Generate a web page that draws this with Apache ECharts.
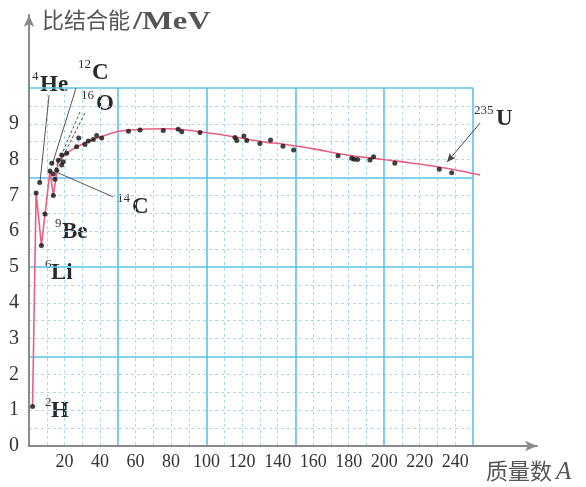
<!DOCTYPE html>
<html>
<head>
<meta charset="utf-8">
<script src="https://cdn.jsdelivr.net/npm/echarts@6/dist/echarts.min.js"></script>
<style>
  html, body { margin: 0; padding: 0; background: #fff; }
  #main { width: 586px; height: 487px; }
</style>
</head>
<body>
<div id="main"></div>
<script>
// measured nuclides (mass number A, binding energy per nucleon in MeV)
var dotA = [2, 4, 6, 7, 9, 13.7, 11.8, 12.8, 14.6, 13.7, 15.6, 16.5, 18.4, 19.3, 18.4, 21.2, 26.8, 28, 31.5, 33.4, 36.2, 38.1, 40.9,
    56, 62.5, 75.6, 84, 86, 96.3, 116, 117, 121, 122.6, 130, 136, 143, 149, 174, 181.7, 183, 185, 192, 194, 206, 231, 238];
var dotE = [1.1, 7.07, 7.36, 5.6, 6.48, 7.0, 7.68, 7.9, 7.45, 7.6, 7.7, 7.98, 7.85, 7.94, 8.13, 8.18, 8.36, 8.6, 8.42, 8.52, 8.56, 8.67, 8.6,
    8.79, 8.83, 8.81, 8.85, 8.78, 8.76, 8.62, 8.53, 8.66, 8.53, 8.45, 8.55, 8.37, 8.27, 8.11, 8.04, 8.01, 8.0, 7.99, 8.08, 7.9, 7.73, 7.63];

// red curve: jagged start for the light nuclei, then a smooth trend
var startA = [2, 4, 7, 11.8, 13.7, 15.6, 16.5];
var startE = [1.1, 7.07, 5.6, 7.68, 7.0, 7.62, 7.98];
var trendA = [16.5, 20, 25, 30, 40, 55, 77, 96, 115, 134, 141, 160, 179, 198, 216, 235, 254];
var trendE = [7.98, 8.12, 8.3, 8.43, 8.63, 8.82, 8.86, 8.78, 8.64, 8.48, 8.45, 8.3, 8.13, 8.01, 7.9, 7.76, 7.57];

// tick labels that are printed
var xTicks = [20, 40, 60, 80, 100, 120, 140, 160, 180, 200, 220, 240];
var yTicks = [0, 1, 2, 3, 4, 5, 6, 7, 8, 9];

function pairs(a, b) {
    var out = [];
    for (var i = 0; i < a.length; i++) out.push([a[i], b[i]]);
    return out;
}

var serif = 'Liberation Serif';
var cn = 'Noto Sans CJK SC';
var major = '#5bc0eb';
var minor = '#a6dcf3';
var axisGray = '#8a8a8a';

var chart = echarts.init(document.getElementById('main'));

// leader lines from labels to points, in data units
var leaders = [
    [[11.3, 9.8], [6.2, 7.37]],
    [[26.5, 10.0], [13, 7.85]],
    [[47.3, 6.96], [16.3, 7.63]]
];
var dashedLeaders = [
    [[28.7, 9.33], [14.6, 7.71]],
    [[31.5, 9.3], [17.5, 7.93]]
];
var arrowLeader = [[254, 9.02], [235.4, 7.93]];

function lineData(list) {
    return list.map(function (l) {
        return [{ coord: l[0] }, { coord: l[1] }];
    });
}

function nucl(sup, sym, supX, symX, cy) {
    return [
        { type: 'text', left: supX, top: cy - 16, style: { text: sup, font: '13px "' + serif + '"', fill: '#333' } },
        { type: 'text', left: symX, top: cy - 12, style: { text: sym, font: 'bold 23px "' + serif + '"', fill: '#2a2a2a' } }
    ];
}

var graphics = [
    { type: 'text', left: 42, top: 9, style: { text: '比结合能', font: '22px "' + cn + '"', fill: '#555' } },
    { type: 'text', x: 133, y: 10, scaleX: 1.3, style: { text: '/MeV', font: 'bold 25px "' + serif + '"', fill: '#555' } },
    { type: 'text', left: 486, top: 460, style: { text: '质量数', font: '22px "' + cn + '"', fill: '#555' } },
    { type: 'text', left: 556, top: 460, style: { text: 'A', font: 'italic 25px "' + serif + '"', fill: '#555' } }
];
graphics = graphics
    .concat(nucl('4', 'He', 32, 40, 86))
    .concat(nucl('12', 'C', 78, 92, 74))
    .concat(nucl('16', 'O', 81, 96, 105))
    .concat(nucl('14', 'C', 117, 132, 208))
    .concat(nucl('9', 'Be', 55, 62, 233))
    .concat(nucl('6', 'Li', 45, 51, 274))
    .concat(nucl('2', 'H', 45, 51, 412))
    .concat(nucl('235', 'U', 474, 496, 120));

var option = {
    animation: false,
    grid: [
        { left: 29, top: 88, width: 444, height: 358, containLabel: false },
        { left: 29, top: 15, right: 49, bottom: 41, containLabel: false }
    ],
    xAxis: [
        {
            gridIndex: 0, type: 'value', min: 0, max: 250, interval: 50,
            axisLine: { show: false }, axisTick: { show: false }, axisLabel: { show: false },
            splitLine: { show: true, lineStyle: { color: major, width: 1.6 } },
            minorTick: { show: false, splitNumber: 5 },
            minorSplitLine: { show: true, lineStyle: { color: minor, width: 1, type: [3, 3] } }
        },
        {
            gridIndex: 1, type: 'value', min: 0, max: 286.04, interval: 20,
            axisLine: { show: true, symbol: ['none', 'arrow'], symbolSize: [8, 12], lineStyle: { color: axisGray, width: 2 } },
            axisTick: { show: false },
            splitLine: { show: false },
            axisLabel: {
                margin: 7, color: '#333', fontFamily: serif, fontSize: 18, showMaxLabel: true,
                formatter: function (v) { return xTicks.indexOf(v) >= 0 ? String(v) : ''; }
            }
        }
    ],
    yAxis: [
        {
            gridIndex: 0, type: 'value', min: 0, max: 10, interval: 2.5,
            axisLine: { show: false }, axisTick: { show: false }, axisLabel: { show: false },
            splitLine: { show: true, lineStyle: { color: major, width: 1.6 } },
            minorTick: { show: false, splitNumber: 5 },
            minorSplitLine: { show: true, lineStyle: { color: minor, width: 1, type: [3, 3] } }
        },
        {
            gridIndex: 1, type: 'value', min: 0, max: 12.039, interval: 1,
            axisLine: { show: true, symbol: ['none', 'arrow'], symbolSize: [8, 12], lineStyle: { color: axisGray, width: 2 } },
            axisTick: { show: false },
            splitLine: { show: false },
            axisLabel: {
                margin: 10, color: '#333', fontFamily: serif, fontSize: 20,
                formatter: function (v) { return yTicks.indexOf(v) >= 0 ? String(v) : ''; }
            }
        }
    ],
    series: [
        {
            type: 'line', xAxisIndex: 1, yAxisIndex: 1, z: 3,
            data: pairs(startA, startE), symbol: 'none', smooth: false,
            lineStyle: { color: '#e8607f', width: 1.6 }
        },
        {
            type: 'line', xAxisIndex: 1, yAxisIndex: 1, z: 3,
            data: pairs(trendA, trendE), symbol: 'none', smooth: 0.5,
            lineStyle: { color: '#e8607f', width: 1.6 },
            markLine: {
                silent: true, symbol: ['none', 'none'], animation: false,
                label: { show: false },
                lineStyle: { color: '#555', width: 1, type: 'solid' },
                data: lineData(leaders)
            }
        },
        {
            type: 'line', xAxisIndex: 1, yAxisIndex: 1, z: 3,
            data: [], symbol: 'none',
            markLine: {
                silent: true, symbol: ['none', 'none'], animation: false,
                label: { show: false },
                lineStyle: { color: '#555', width: 1, type: [3, 2] },
                data: lineData(dashedLeaders)
            }
        },
        {
            type: 'line', xAxisIndex: 1, yAxisIndex: 1, z: 3,
            data: [], symbol: 'none',
            markLine: {
                silent: true, symbol: ['none', 'arrow'], symbolSize: [6, 9], animation: false,
                label: { show: false },
                lineStyle: { color: '#444', width: 1, type: 'solid' },
                data: lineData([arrowLeader])
            }
        },
        {
            type: 'scatter', xAxisIndex: 1, yAxisIndex: 1, z: 5,
            data: pairs(dotA, dotE), symbol: 'circle', symbolSize: 5,
            itemStyle: { color: '#111' }
        }
    ],
    graphic: graphics
};

chart.setOption(option);
</script>
</body>
</html>
